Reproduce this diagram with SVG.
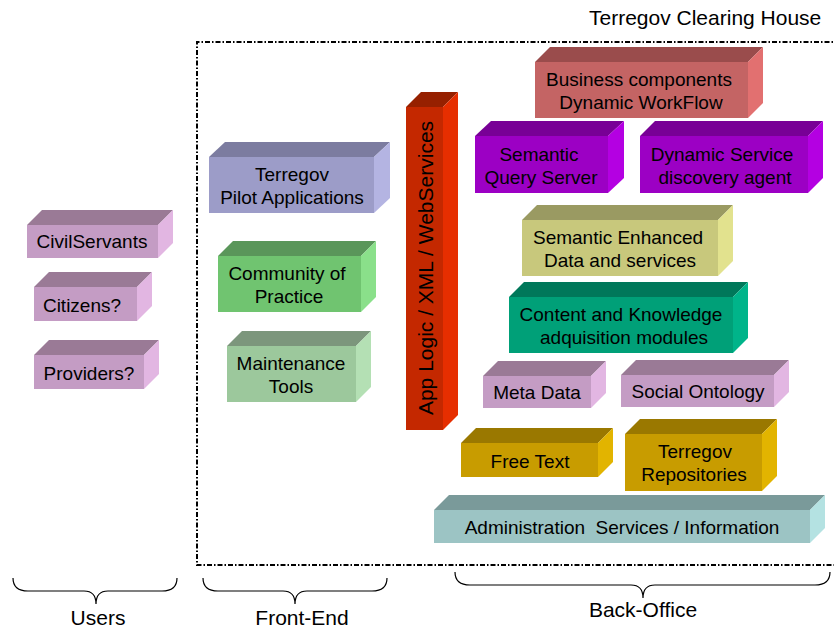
<svg xmlns="http://www.w3.org/2000/svg" width="834" height="628" viewBox="0 0 834 628">
<style>
text{font-family:"Liberation Sans",Arial,sans-serif;fill:#000}
.l{font-size:19px;text-anchor:middle;white-space:pre}
.b{font-size:21px;text-anchor:middle}
.brace{fill:none;stroke:#000;stroke-width:1.2}
.frame{fill:none;stroke:#000;stroke-width:2;stroke-dasharray:5,2,1.5,2}
.pk .f{fill:#C49CC4}.pk .t{fill:#9A7A96}.pk .r{fill:#E2B6E2}
.lv .f{fill:#9C9CC8}.lv .t{fill:#7C7CA0}.lv .r{fill:#B4B4E2}
.gr .f{fill:#70C470}.gr .t{fill:#5A965A}.gr .r{fill:#8AE08A}
.lg .f{fill:#9CC89C}.lg .t{fill:#7C967C}.lg .r{fill:#B4E0B4}
.rd .f{fill:#C42800}.rd .t{fill:#962000}.rd .r{fill:#E62E00}
.bz .f{fill:#C46464}.bz .t{fill:#9A4C4C}.bz .r{fill:#E27070}
.pu .f{fill:#9C00C4}.pu .t{fill:#780096}.pu .r{fill:#B400E2}
.kh .f{fill:#C8C87C}.kh .t{fill:#9A9A62}.kh .r{fill:#E2E28E}
.te .f{fill:#00A078}.te .t{fill:#00785A}.te .r{fill:#00B48A}
.go .f{fill:#C89C00}.go .t{fill:#9A7800}.go .r{fill:#E2B400}
.aq .f{fill:#9CC4C4}.aq .t{fill:#7A9A9A}.aq .r{fill:#B4E2E2}
</style>

<path class="frame" d="M840,42 L197,42 L197,565 L840,565"/>
<text x="589" y="25" style="font-size:21px">Terregov Clearing House</text>

<!-- Users -->
<g id="civilservants" class="pk">
<rect class="f" x="27" y="225" width="131" height="33"/>
<polygon class="t" points="27,225 42,210 173,210 158,225"/>
<polygon class="r" points="158,225 173,210 173,243 158,258"/>
<text class="l" x="92" y="248">CivilServants</text>
</g>
<g id="citizens" class="pk">
<rect class="f" x="34" y="287" width="103" height="34"/>
<polygon class="t" points="34,287 49,272 152,272 137,287"/>
<polygon class="r" points="137,287 152,272 152,306 137,321"/>
<text class="l" x="82" y="312">Citizens?</text>
</g>
<g id="providers" class="pk">
<rect class="f" x="34" y="355" width="110" height="34"/>
<polygon class="t" points="34,355 49,340 159,340 144,355"/>
<polygon class="r" points="144,355 159,340 159,374 144,389"/>
<text class="l" x="89" y="380">Providers?</text>
</g>

<!-- Front-end -->
<g id="pilot" class="lv">
<rect class="f" x="209" y="157" width="165" height="56"/>
<polygon class="t" points="209,157 225,142 390,142 374,157"/>
<polygon class="r" points="374,157 390,142 390,198 374,213"/>
<text class="l" x="292" y="181">Terregov</text>
<text class="l" x="292" y="204">Pilot Applications</text>
</g>
<g id="community" class="gr">
<rect class="f" x="218" y="256" width="143" height="56"/>
<polygon class="t" points="218,256 233,241 376,241 361,256"/>
<polygon class="r" points="361,256 376,241 376,297 361,312"/>
<text class="l" x="287" y="280">Community of</text>
<text class="l" x="289" y="303">Practice</text>
</g>
<g id="maintenance" class="lg">
<rect class="f" x="227" y="346" width="129" height="56"/>
<polygon class="t" points="227,346 242,331 371,331 356,346"/>
<polygon class="r" points="356,346 371,331 371,387 356,402"/>
<text class="l" x="291" y="370">Maintenance</text>
<text class="l" x="291" y="393">Tools</text>
</g>

<!-- App logic bar -->
<g id="applogic" class="rd">
<rect class="f" x="406" y="107" width="37" height="323"/>
<polygon class="t" points="406,107 421,92 458,92 443,107"/>
<polygon class="r" points="443,107 458,92 458,415 443,430"/>
<text class="b" transform="translate(433,268) rotate(-90)" x="0" y="0">App Logic / XML / WebServices</text>
</g>

<!-- Back-office -->
<g id="business" class="bz">
<rect class="f" x="535" y="62" width="213" height="56"/>
<polygon class="t" points="535,62 550,47 763,47 748,62"/>
<polygon class="r" points="748,62 763,47 763,103 748,118"/>
<text class="l" x="639" y="86">Business components</text>
<text class="l" x="641" y="109">Dynamic WorkFlow</text>
</g>
<g id="semquery" class="pu">
<rect class="f" x="475" y="136" width="133" height="57"/>
<polygon class="t" points="475,136 491,121 624,121 608,136"/>
<polygon class="r" points="608,136 624,121 624,178 608,193"/>
<text class="l" x="539" y="161">Semantic</text>
<text class="l" x="541" y="184">Query Server</text>
</g>
<g id="dynservice" class="pu">
<rect class="f" x="640" y="136" width="168" height="57"/>
<polygon class="t" points="640,136 655,121 823,121 808,136"/>
<polygon class="r" points="808,136 823,121 823,178 808,193"/>
<text class="l" x="722" y="161">Dynamic Service</text>
<text class="l" x="725" y="184">discovery agent</text>
</g>
<g id="semenhanced" class="kh">
<rect class="f" x="522" y="220" width="196" height="56"/>
<polygon class="t" points="522,220 537,205 733,205 718,220"/>
<polygon class="r" points="718,220 733,205 733,261 718,276"/>
<text class="l" x="618" y="244">Semantic Enhanced</text>
<text class="l" x="620" y="267">Data and services</text>
</g>
<g id="content" class="te">
<rect class="f" x="509" y="297" width="224" height="56"/>
<polygon class="t" points="509,297 524,282 748,282 733,297"/>
<polygon class="r" points="733,297 748,282 748,338 733,353"/>
<text class="l" x="621" y="321">Content and Knowledge</text>
<text class="l" x="624" y="344">adquisition modules</text>
</g>
<g id="metadata" class="pk">
<rect class="f" x="483" y="376" width="108" height="32"/>
<polygon class="t" points="483,376 498,361 606,361 591,376"/>
<polygon class="r" points="591,376 606,361 606,393 591,408"/>
<text class="l" x="537" y="399">Meta Data</text>
</g>
<g id="socialontology" class="pk">
<rect class="f" x="621" y="375" width="153" height="32"/>
<polygon class="t" points="621,375 636,360 789,360 774,375"/>
<polygon class="r" points="774,375 789,360 789,392 774,407"/>
<text class="l" x="698" y="398">Social Ontology</text>
</g>
<g id="freetext" class="go">
<rect class="f" x="461" y="443" width="137" height="34"/>
<polygon class="t" points="461,443 476,428 613,428 598,443"/>
<polygon class="r" points="598,443 613,428 613,462 598,477"/>
<text class="l" x="530" y="468">Free Text</text>
</g>
<g id="repositories" class="go">
<rect class="f" x="625" y="434" width="137" height="57"/>
<polygon class="t" points="625,434 640,419 777,419 762,434"/>
<polygon class="r" points="762,434 777,419 777,476 762,491"/>
<text class="l" x="695" y="458">Terregov</text>
<text class="l" x="694" y="481">Repositories</text>
</g>
<g id="administration" class="aq">
<rect class="f" x="434" y="510" width="376" height="33"/>
<polygon class="t" points="434,510 449,495 825,495 810,510"/>
<polygon class="r" points="810,510 825,495 825,528 810,543"/>
<text class="l" x="622" y="534">Administration  Services / Information</text>
</g>

<!-- Braces -->
<g id="braces">
<path class="brace" d="M13,578 Q13,591 28,591 L84,591 Q96,591 96,604 Q96,591 108,591 L162,591 Q177,591 177,578"/>
<path class="brace" d="M203,578 Q203,591 218,591 L283,591 Q295,591 295,604 Q295,591 307,591 L372,591 Q387,591 387,578"/>
<path class="brace" d="M455,572 Q455,585 470,585 L631,585 Q643,585 643,598 Q643,585 655,585 L815,585 Q830,585 830,572"/>
</g>
<text class="b" x="98" y="625">Users</text>
<text class="b" x="302" y="625">Front-End</text>
<text class="b" x="643" y="617">Back-Office</text>
</svg>
